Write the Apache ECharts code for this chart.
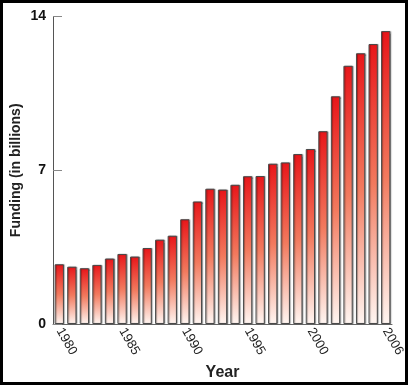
<!DOCTYPE html>
<html><head><meta charset="utf-8">
<script src="https://cdn.jsdelivr.net/npm/echarts@6/dist/echarts.min.js"></script>
<style>
html,body{margin:0;padding:0;background:#000;}
#c{position:absolute;left:3px;top:3px;width:402px;height:379px;background:#fff;}
</style></head>
<body><div id="c"></div>
<script>
const years = ['1980','1981','1982','1983','1984','1985','1986','1987','1988','1989','1990','1991','1992','1993','1994','1995','1996','1997','1998','1999','2000','2001','2002','2003','2004','2005','2006'];
const funding = [2.72,2.61,2.54,2.69,2.98,3.19,3.07,3.46,3.84,4.02,4.77,5.58,6.16,6.12,6.34,6.73,6.74,7.30,7.36,7.74,7.97,8.78,10.37,11.76,12.33,12.75,13.34];
const yTicks = [0,7,14];
const shownLabels = ['1980','1985','1990','1995','2000','2006'];

const chart = echarts.init(document.getElementById('c'));
chart.setOption({
  animation:false,
  grid:{left:50,right:13,top:13.6,bottom:58,outerBoundsMode:'none',containLabel:false},
  xAxis:{
    type:'category', data:years,
    name:'Year', nameLocation:'middle', nameGap:40,
    nameTextStyle:{fontFamily:'Liberation Sans',fontWeight:'bold',fontSize:16,color:'#222'},
    axisLine:{lineStyle:{color:'#666',width:1}},
    axisTick:{inside:true,length:7,lineStyle:{color:'#999',width:2}},
    axisLabel:{
      interval:0, rotate:-60, margin:5,
      formatter:v=>shownLabels.includes(v)?v:'',
      fontFamily:'Liberation Sans', fontSize:13, color:'#222'
    }
  },
  yAxis:{
    type:'value', min:0, max:14, interval:7,
    name:'Funding (in billions)', nameLocation:'middle', nameGap:30, nameMoveOverlap:false,
    nameTextStyle:{fontFamily:'Liberation Sans',fontWeight:'bold',fontSize:14,color:'#222'},
    axisLine:{show:true,lineStyle:{color:'#555',width:1}},
    axisTick:{show:true,inside:true,length:9,lineStyle:{color:'#888',width:1}},
    splitLine:{show:false},
    axisLabel:{fontFamily:'Liberation Sans',fontWeight:'bold',fontSize:14,color:'#111',margin:7,
      formatter:v=>yTicks.includes(v)?String(v):''}
  },
  series:[{
    type:'bar', data:funding, barCategoryGap:'26%',
    itemStyle:{
      color:new echarts.graphic.LinearGradient(0,0,0,1,[
        {offset:0,color:'#e8161a'},
        {offset:0.5,color:'#f27a5e'},
        {offset:1,color:'#fff6f2'}
      ]),
      borderColor:'#4a4a4a', borderWidth:1,
      shadowColor:'rgba(0,0,0,0.35)', shadowBlur:1, shadowOffsetX:1, shadowOffsetY:0
    }
  }]
});
</script></body></html>
